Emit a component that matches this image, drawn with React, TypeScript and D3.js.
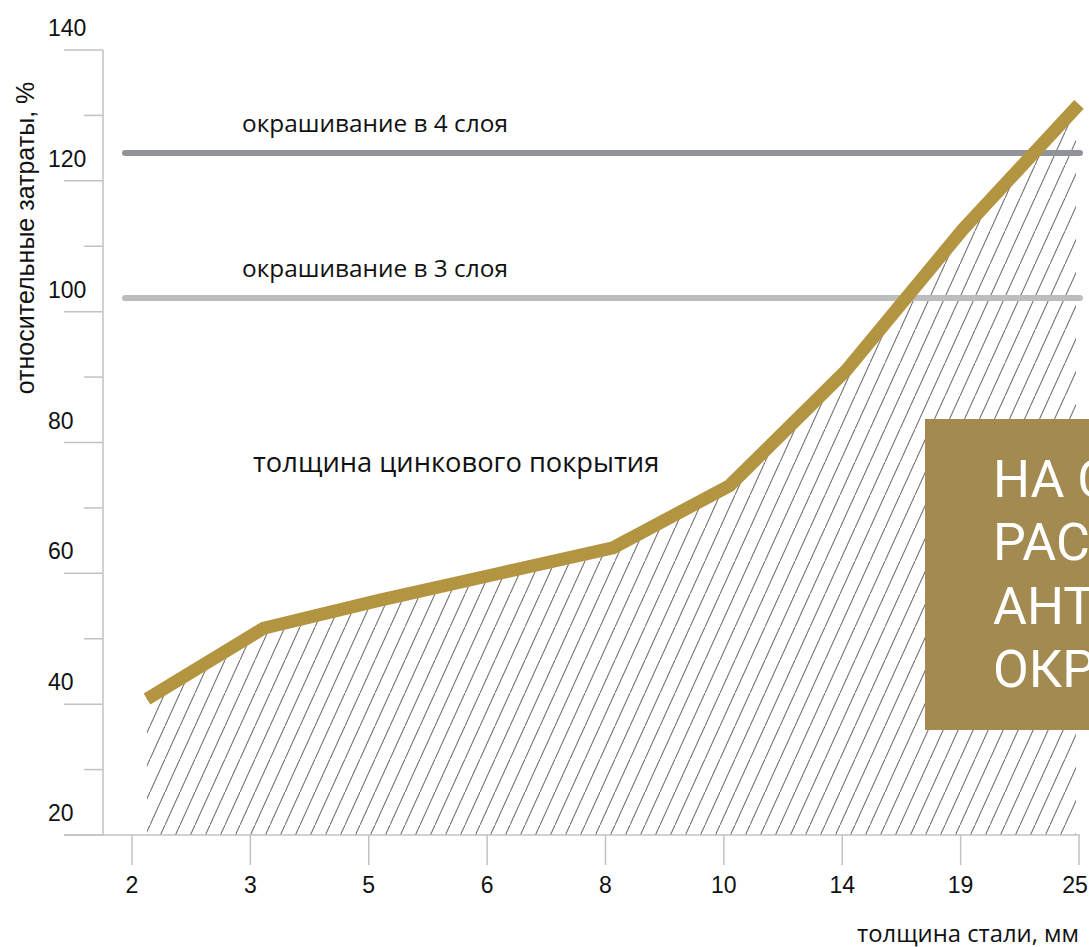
import React from "react";
import * as d3 from "d3";

const categories = ["2", "3", "5", "6", "8", "10", "14", "19", "25"];
const zincValues = [40.8, 51.6, 55.9, 59.9, 63.9, 73.4, 91.0, 112.5, 131.7];
const yTicks = [20, 30, 40, 50, 60, 70, 80, 90, 100, 110, 120, 130, 140];
const yLabels = [20, 40, 60, 80, 100, 120, 140];
const paintLevels = [
  { label: "окрашивание в 4 слоя", value: 124.25, color: "#909498" },
  { label: "окрашивание в 3 слоя", value: 102.1, color: "#bcbdbf" },
];
const boxLines = ["НА СНИЖЕНИЕ", "РАСХОДОВ НА", "АНТИКОРРОЗИЙНУЮ", "ОКРАСКУ"];

const W = 1089;
const H = 947;

export default function App() {
  const y = d3.scaleLinear().domain([20, 140]).range([835, 50]);
  const xTick = d3.scalePoint<string>().domain(categories).range([132, 1079]);
  const xLine = d3.scalePoint<string>().domain(categories).range([147, 1079]);

  const pts: [number, number][] = categories.map((c, i) => [xLine(c)!, y(zincValues[i])]);
  const line = d3.line<[number, number]>().x((d) => d[0]).y((d) => d[1]);
  const area = d3
    .area<[number, number]>()
    .x((d) => d[0])
    .y0(y(20))
    .y1((d) => d[1]);

  const axisColor = "#c2c2c2";
  const numFont = "'Liberation Sans', Arial, sans-serif";
  const labFont = "'Open Sans', sans-serif";

  return (
    <svg
      width={W}
      height={H}
      style={{ position: "absolute", left: 0, top: 0, background: "#fff" }}
    >
      <defs>
        <pattern id="hatch" patternUnits="userSpaceOnUse" width={15} height={33}>
          <line x1={-1} y1={35.2} x2={16} y2={-2.2} stroke="#707070" strokeWidth={1.1} />
        </pattern>
        <clipPath id="hatchClip">
          <rect x={146} y={0} width={1076 - 146} height={H} />
        </clipPath>
      </defs>

      {/* hatched area under zinc line */}
      <path d={area(pts)!} fill="url(#hatch)" clipPath="url(#hatchClip)" />

      {/* y axis */}
      <line x1={103} x2={103} y1={y(140)} y2={y(20)} stroke={axisColor} strokeWidth={1.5} />
      {yTicks.map((t) => (
        <line
          key={t}
          x1={t % 20 === 0 ? 64 : 84}
          x2={103}
          y1={y(t)}
          y2={y(t)}
          stroke={axisColor}
          strokeWidth={1.5}
        />
      ))}
      {yLabels.map((t) => (
        <text key={t} x={48} y={y(t) - 14} fontFamily={numFont} fontSize={23} fill="#111">
          {t}
        </text>
      ))}
      <text
        transform="translate(34,238) rotate(-90)"
        textAnchor="middle"
        fontFamily={numFont}
        fontSize={25}
        fill="#111"
      >
        относительные затраты, %
      </text>

      {/* x axis */}
      <line x1={64} x2={1080} y1={y(20)} y2={y(20)} stroke={axisColor} strokeWidth={1.5} />
      {categories.map((c) => (
        <g key={c}>
          <line x1={xTick(c)} x2={xTick(c)} y1={y(20)} y2={865} stroke={axisColor} strokeWidth={1.5} />
          <text
            x={Math.min(xTick(c)!, W - 14)}
            y={893}
            textAnchor="middle"
            fontFamily={numFont}
            fontSize={23}
            fill="#111"
          >
            {c}
          </text>
        </g>
      ))}
      <text x={1079} y={942} textAnchor="end" fontFamily={labFont} fontSize={23.8} fill="#111">
        толщина стали, мм
      </text>

      {/* painting levels */}
      {paintLevels.map((p) => (
        <g key={p.label}>
          <line
            x1={125}
            x2={1080}
            y1={y(p.value)}
            y2={y(p.value)}
            stroke={p.color}
            strokeWidth={6}
            strokeLinecap="round"
          />
          <text x={242} y={y(p.value) - 21} fontFamily={labFont} fontSize={24.4} fill="#111">
            {p.label}
          </text>
        </g>
      ))}

      <text x={253} y={472} fontFamily={labFont} fontSize={27.3} fill="#111">
        толщина цинкового покрытия
      </text>

      {/* zinc line */}
      <path d={line(pts)!} fill="none" stroke="#b39440" strokeWidth={13} strokeLinejoin="miter" />

      {/* callout box */}
      <rect x={925} y={419} width={200} height={311} fill="#a28a50" />
      {boxLines.map((t, i) => (
        <text
          key={t}
          x={993}
          y={497 + i * 63.3}
          fontFamily="Roboto, sans-serif"
          fontSize={52}
          fill="#fff"
        >
          {t}
        </text>
      ))}
    </svg>
  );
}
